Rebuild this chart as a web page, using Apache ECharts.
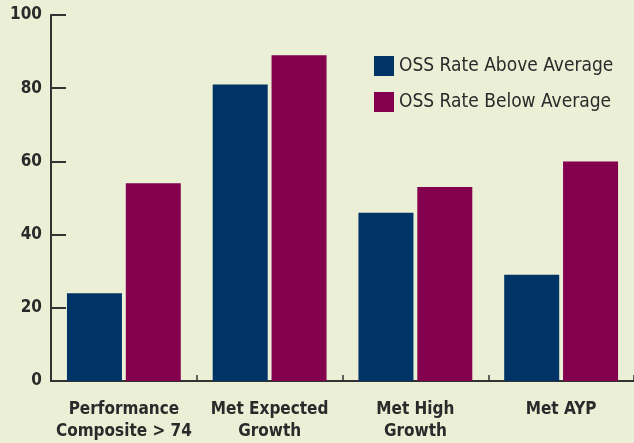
<!DOCTYPE html>
<html><head><meta charset="utf-8">
<script src="https://cdn.jsdelivr.net/npm/echarts@6/dist/echarts.min.js"></script>
<style>html,body{margin:0;padding:0;background:#EBEFD6;}#c{width:634px;height:443px;}</style>
</head><body><div id="c"></div>
<script>
const categories = ["Performance\nComposite > 74", "Met Expected\nGrowth", "Met High\nGrowth", "Met AYP"];
const seriesNames = ["OSS Rate Above Average", "OSS Rate Below Average"];
const aboveValues = [24, 81, 46, 29];
const belowValues = [54, 89, 53, 60];
const yTicks = [0, 20, 40, 60, 80, 100];

const font = '"DejaVu Sans Condensed", "Liberation Sans Narrow", sans-serif';
const chart = echarts.init(document.getElementById('c'));
chart.setOption({
  backgroundColor: '#EBEFD6',
  animation: false,
  grid: {left: 51, right: -6, top: 15, bottom: 62, containLabel: false},
  legend: {
    orient: 'vertical', left: 374, top: 56, itemWidth: 20, itemHeight: 20, itemGap: 16,
    padding: 0,
    icon: 'rect',
    textStyle: {fontFamily: font, fontSize: 19, color: '#2a2a2a', padding: [2,0,0,0]},
    data: seriesNames
  },
  xAxis: {
    type: 'category', data: categories,
    axisLine: {lineStyle: {color: '#333', width: 2}},
    axisTick: {show: true, inside: true, length: 6, lineStyle: {color: '#333', width: 1.5}},
    axisLabel: {fontFamily: font, fontWeight: 'bold', fontSize: 17, color: '#2a2a2a', lineHeight: 22, margin: 18, interval: 0}
  },
  yAxis: {
    type: 'value', min: 0, max: 100, interval: 20,
    splitLine: {show: false},
    axisLine: {show: true, lineStyle: {color: '#333', width: 2}},
    axisTick: {show: true, inside: true, length: 15, lineStyle: {color: '#333', width: 2}},
    axisLabel: {fontFamily: font, fontWeight: 'bold', fontSize: 17, color: '#2a2a2a', margin: 9,
      formatter: v => yTicks.includes(v) ? String(v) : ''}
  },
  series: [
    {name: seriesNames[0], type: 'bar', data: aboveValues, barWidth: 55, barGap: '7%',
     itemStyle: {color: '#003466'}},
    {name: seriesNames[1], type: 'bar', data: belowValues, barWidth: 55,
     itemStyle: {color: '#84004F'}}
  ]
});
</script></body></html>
